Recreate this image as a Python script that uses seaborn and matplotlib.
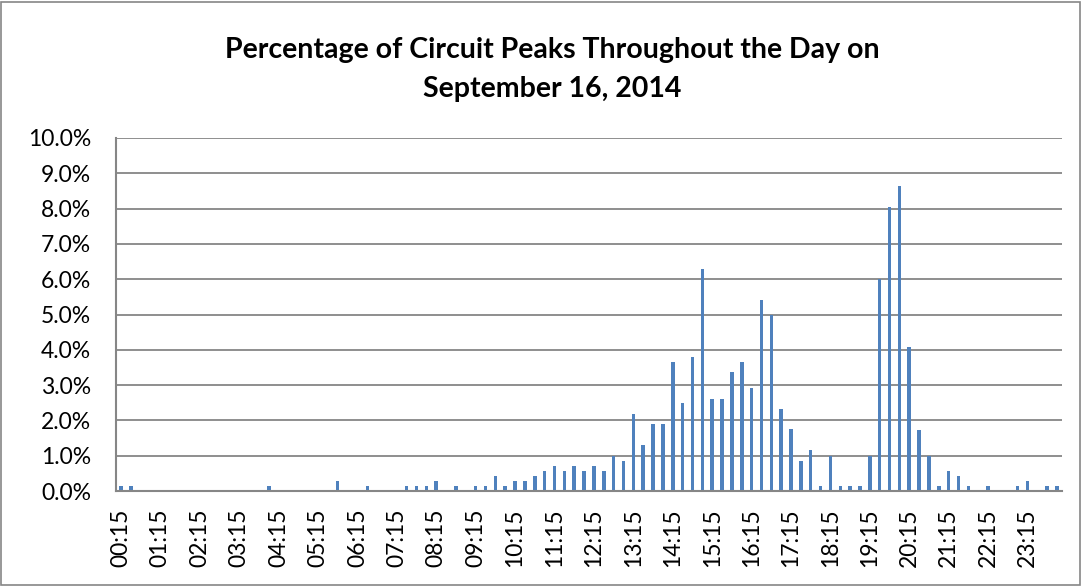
import numpy as np
import pandas as pd
import matplotlib
matplotlib.use("Agg")
import matplotlib.pyplot as plt
import seaborn as sns
from matplotlib.patches import Rectangle
from matplotlib.ticker import MultipleLocator, FuncFormatter

sns.set_style("white")
plt.rcParams['font.family'] = ['Lato', 'DejaVu Sans']
plt.rcParams.update({'text.color': 'black', 'xtick.labelcolor': 'black',
                     'ytick.labelcolor': 'black'})

# 15-minute slots, 00:15 ... 24:00
times = ["%02d:%02d" % divmod(15 * (i + 1), 60) for i in range(96)]

# percentage of circuit peaks per slot
peaks = [0.14, 0.14, 0, 0, 0, 0, 0, 0, 0, 0, 0, 0, 0, 0, 0, 0.14,
         0, 0, 0, 0, 0, 0, 0.29, 0, 0, 0.14, 0, 0, 0, 0.14, 0.14, 0.14,
         0.29, 0, 0.14, 0, 0.14, 0.14, 0.43, 0.14, 0.29, 0.29, 0.43, 0.57, 0.71, 0.57, 0.71, 0.57,
         0.71, 0.57, 1.00, 0.86, 2.19, 1.31, 1.90, 1.90, 3.66, 2.48, 3.80, 6.30, 2.62, 2.62, 3.36, 3.66,
         2.92, 5.42, 4.98, 2.33, 1.75, 0.86, 1.15, 0.14, 1.00, 0.14, 0.14, 0.14, 1.00, 6.00, 8.05, 8.65,
         4.08, 1.74, 1.00, 0.14, 0.57, 0.43, 0.14, 0, 0.14, 0, 0, 0.14, 0.29, 0, 0.14, 0.14]

title_lines = ["Percentage of Circuit Peaks Throughout the Day on", "September 16, 2014"]

df = pd.DataFrame({"time": times, "pct": peaks})

fig = plt.figure(figsize=(10.82, 5.86), dpi=100)
ax = fig.add_axes([116 / 1082, 1 - 491 / 586, 946 / 1082, 353 / 586])

sns.barplot(data=df, x="time", y="pct", color="#4F81BD", saturation=1,
            width=0.36, ax=ax, order=times, edgecolor="none", linewidth=0)

grey = "#868686"
ax.set_xlim(-0.5, 95.5)
ax.set_ylim(0, 10)
ax.yaxis.set_major_locator(MultipleLocator(1))
ax.yaxis.set_major_formatter(FuncFormatter(lambda v, p: "%.1f%%" % v))
ax.grid(axis="y", color=grey, linewidth=1.3)
ax.set_axisbelow(True)

ax.set_xticks(range(0, 96, 4))
ax.set_xticklabels(times[0:96:4], rotation=90)
ax.set_xticks(np.arange(-0.5, 96, 1), minor=True)
ax.tick_params(axis="x", which="major", length=0, pad=12.5, labelsize=16.5)
ax.tick_params(axis="x", which="minor", length=6, width=1.2, color=grey)
ax.tick_params(axis="y", length=7, width=1.2, color=grey, labelsize=16.5, pad=11)
ax.set_xlabel("")
ax.set_ylabel("")

for side in ["top", "right"]:
    ax.spines[side].set_visible(False)
for side in ["left", "bottom"]:
    ax.spines[side].set_color(grey)
    ax.spines[side].set_linewidth(1.5)

fig.text(552 / 1082, 1 - 50 / 586, title_lines[0], ha="center", va="center",
         fontsize=20.5, fontweight="bold")
fig.text(552 / 1082, 1 - 89 / 586, title_lines[1], ha="center", va="center",
         fontsize=20.5, fontweight="bold")

fig.patches.append(Rectangle((0.001, 0.002), 0.997, 0.995, transform=fig.transFigure,
                             fill=False, edgecolor=grey, linewidth=1.2))

fig.savefig("out.png", dpi=100)
